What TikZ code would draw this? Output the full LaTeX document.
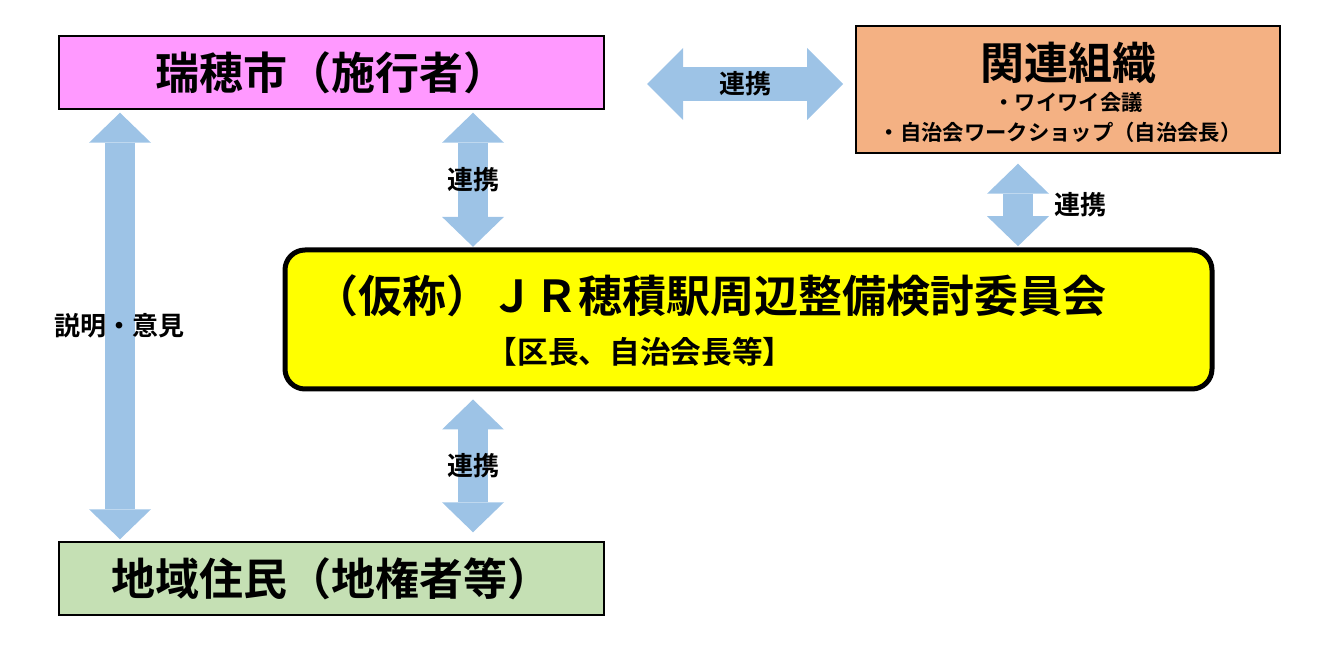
\documentclass[tikz,border=0pt]{standalone}
\usepackage{fontspec}
\setmainfont{Noto Sans CJK JP}[BoldFont={Noto Sans CJK JP Bold}]
\usetikzlibrary{arrows.meta, positioning}
\definecolor{cityPink}{HTML}{FF99FF}
\definecolor{groupOrange}{HTML}{F4B183}
\definecolor{residentGreen}{HTML}{C5E0B4}
\definecolor{linkBlue}{HTML}{9DC3E6}
\definecolor{committeeYellow}{HTML}{FFFF00}

\begin{document}
\begin{tikzpicture}[x=0.75pt, y=-0.75pt,
    box/.style={rectangle, draw, line width=1.1pt, inner sep=0pt, minimum width=408.75pt, minimum height=54.75pt, font=\bfseries\fontsize{33}{33}\selectfont},
    link/.style={color=linkBlue, line width=22.5pt, {Triangle[length=22.5pt, width=46.5pt, line width=0pt]}-{Triangle[length=22.5pt, width=46.5pt, line width=0pt]}},
    biglink/.style={color=linkBlue, line width=26pt, {Triangle[length=27pt, width=54pt, line width=0pt]}-{Triangle[length=27pt, width=54pt, line width=0pt]}},
    tag/.style={text=black, inner sep=1pt, font=\bfseries\fontsize{19.5}{19.5}\selectfont}
]
\useasboundingbox (0,0) rectangle (1318,648);

% boxes
\node[box, fill=cityPink] (city) at (331.5,72.5) {瑞穂市（施行者）};
\node[box, fill=residentGreen] (residents) at (331.5,578.5) {地域住民（地権者等）};
\node[rectangle, draw, line width=1.1pt, fill=groupOrange, minimum width=318pt, minimum height=95.25pt] (groups) at (1068,89.5) {};
\node[font=\bfseries\fontsize{33}{33}\selectfont] (groupsTitle) at (1068,63) {関連組織};
\node[font=\bfseries\fontsize{16}{16}\selectfont] (groupsA) at (1068,102) {・ワイワイ会議};
\node[font=\bfseries\fontsize{16}{16}\selectfont] (groupsB) at (1060,132) {・自治会ワークショップ（自治会長）};

\node[draw, line width=3.75pt, rounded corners=15pt, fill=committeeYellow, minimum width=695.25pt, minimum height=104.25pt] (committee) at (748.5,319.5) {};
\node[anchor=west, font=\bfseries\fontsize{33}{33}\selectfont] (committeeName) at (310,296) {（仮称）ＪＲ穂積駅周辺整備検討委員会};
\node[anchor=west, font=\bfseries\fontsize{23}{23}\selectfont] (committeeMembers) at (482,352) {【区長、自治会長等】};

% lanes for the arrows
\coordinate (leftLane) at (120,0);
\coordinate (midLane) at (473,0);
\coordinate (rightLane) at (1018,0);
\coordinate (hLeft) at (647,84);
\coordinate (hRight) at (843,84);

% arrows
\draw[link] ([yshift=-2.25pt]city.south -| leftLane) -- ([yshift=1.5pt]residents.north -| leftLane)
    node[midway, tag] {説明・意見};
\draw[link] ([yshift=-2.25pt]city.south -| midLane) -- ([yshift=0.5pt]committee.north -| midLane)
    node[midway, tag] {連携};
\draw[link] ([yshift=-6pt]committee.south -| midLane) -- ([yshift=6.75pt]residents.north -| midLane)
    node[midway, tag] {連携};
\draw[link] ([yshift=-7.5pt]groups.south -| rightLane) -- ([yshift=1pt]committee.north -| rightLane)
    node[midway, tag, anchor=west, xshift=15pt] {連携};
\draw[biglink] (hLeft) -- (hRight) node[midway, tag] {連携};
\end{tikzpicture}
\end{document}
